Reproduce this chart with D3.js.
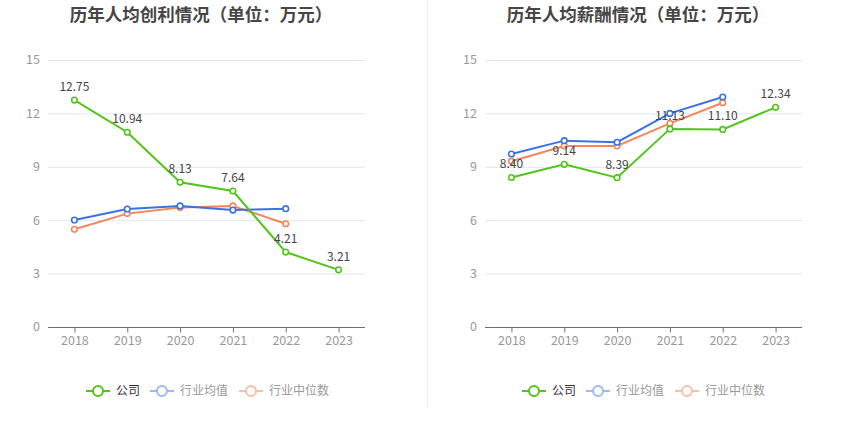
<!DOCTYPE html>
<html>
<head>
<meta charset="utf-8">
<script src="https://cdn.jsdelivr.net/npm/d3@7/dist/d3.min.js"></script>
<style>
  html, body { margin: 0; padding: 0; background: #fff; }
  svg { display: block; font-family: "Noto Sans CJK SC", "Noto Sans", sans-serif; }
</style>
</head>
<body>
<svg id="chart" width="850" height="437"></svg>
<script>
(function() {
    'use strict';

    var years = ['2018', '2019', '2020', '2021', '2022', '2023'];
    var yTicks = [0, 3, 6, 9, 12, 15];
    var seriesNames = ['公司', '行业均值', '行业中位数'];

    // 人均创利
    var profitCompany = [12.75, 10.94, 8.13, 7.64, 4.21, 3.21];
    var profitAvg = [6.01, 6.63, 6.80, 6.57, 6.65];
    var profitMedian = [5.49, 6.37, 6.72, 6.80, 5.80];

    // 人均薪酬
    var salaryCompany = [8.40, 9.14, 8.39, 11.13, 11.10, 12.34];
    var salaryAvg = [9.72, 10.47, 10.38, 12.00, 12.92];
    var salaryMedian = [9.31, 10.17, 10.17, 11.44, 12.60];

    var colors = ['#52c41a', '#3a72e3', '#f5855b'];
    var legendColors = ['#52c41a', '#9bb9f2', '#f9c0a8'];
    var legendText = ['#333', '#999', '#999'];

    var svg = d3.select('#chart');

    // divider
    svg.append('line')
        .attr('x1', 427.5).attr('x2', 427.5)
        .attr('y1', 0).attr('y2', 407)
        .attr('stroke', '#eeeeee');

    function drawPanel(opts) {
        var g = svg.append('g');
        var x = d3.scalePoint().domain(years).range([opts.left, opts.right]).padding(0.5);
        var y = d3.scaleLinear().domain([0, 15]).range([327, 60]);

        g.append('text')
            .attr('x', opts.titleX).attr('y', 21)
            .attr('text-anchor', 'middle')
            .attr('font-size', 17.5).attr('font-weight', 'bold')
            .attr('fill', '#464646')
            .text(opts.title);

        // grid
        g.selectAll('.grid')
            .data(yTicks.filter(function(d) { return d > 0; }))
            .join('line')
            .attr('x1', opts.left).attr('x2', opts.right)
            .attr('y1', function(d) { return y(d) + 0.5; })
            .attr('y2', function(d) { return y(d) + 0.5; })
            .attr('stroke', '#e0e6f1');

        g.selectAll('.ytick')
            .data(yTicks)
            .join('text')
            .attr('x', opts.left - 8)
            .attr('y', function(d) { return y(d); })
            .attr('dy', '0.35em')
            .attr('text-anchor', 'end')
            .attr('font-size', 12.5)
            .attr('fill', '#999')
            .text(function(d) { return d; });

        // x axis
        var xAxis = d3.axisBottom(x).tickSize(5).tickPadding(4);
        var ax = g.append('g')
            .attr('transform', 'translate(0,' + (y(0) + 0.5) + ')')
            .call(xAxis);
        ax.select('.domain').attr('stroke', '#6e7079')
            .attr('d', 'M' + opts.left + ',0H' + opts.right);
        ax.selectAll('.tick line').attr('stroke', '#6e7079');
        ax.selectAll('.tick text')
            .attr('fill', '#999').attr('font-size', 12.5)
            .attr('font-family', '"Noto Sans CJK SC", "Noto Sans", sans-serif');

        var line = d3.line()
            .x(function(d, i) { return x(years[i]); })
            .y(function(d) { return y(d); });

        var series = [opts.company, opts.avg, opts.median];
        // draw median, avg, then company on top
        [2, 1, 0].forEach(function(k) {
            var vals = series[k];
            g.append('path')
                .datum(vals)
                .attr('d', line)
                .attr('fill', 'none')
                .attr('stroke', colors[k])
                .attr('stroke-width', 2);
            g.selectAll('.pt' + k)
                .data(vals)
                .join('circle')
                .attr('cx', function(d, i) { return x(years[i]); })
                .attr('cy', function(d) { return y(d); })
                .attr('r', 2.8)
                .attr('fill', '#fff')
                .attr('stroke', colors[k])
                .attr('stroke-width', 1.6);
        });

        // company labels
        g.selectAll('.lbl')
            .data(opts.company)
            .join('text')
            .attr('x', function(d, i) { return x(years[i]); })
            .attr('y', function(d) { return y(d) - 9; })
            .attr('text-anchor', 'middle')
            .attr('font-size', 12)
            .attr('fill', '#444')
            .text(function(d) { return d.toFixed(2); });

        // legend
        var lg = g.append('g').attr('transform', 'translate(' + opts.legendX + ',391)');
        var offsets = [0, 64, 153];
        seriesNames.forEach(function(name, k) {
            var item = lg.append('g').attr('transform', 'translate(' + offsets[k] + ',0)');
            item.append('line')
                .attr('x1', 0).attr('x2', 24)
                .attr('stroke', legendColors[k]).attr('stroke-width', 2);
            item.append('circle')
                .attr('cx', 12).attr('cy', 0).attr('r', 5)
                .attr('fill', '#fff')
                .attr('stroke', legendColors[k]).attr('stroke-width', 2);
            item.append('text')
                .attr('x', 30).attr('y', 0).attr('dy', '0.35em')
                .attr('font-size', 12)
                .attr('fill', legendText[k])
                .text(name);
        });
    }

    drawPanel({
        title: '历年人均创利情况（单位：万元）',
        titleX: 201, left: 48, right: 365, legendX: 86,
        company: profitCompany, avg: profitAvg, median: profitMedian
    });

    drawPanel({
        title: '历年人均薪酬情况（单位：万元）',
        titleX: 638, left: 485, right: 802, legendX: 522,
        company: salaryCompany, avg: salaryAvg, median: salaryMedian
    });
})();
</script>
</body>
</html>
